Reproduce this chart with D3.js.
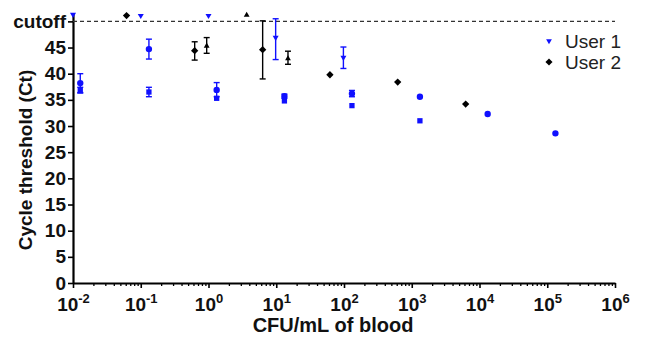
<!DOCTYPE html>
<html><head><meta charset="utf-8">
<script src="https://cdnjs.cloudflare.com/ajax/libs/d3/7.8.5/d3.min.js"></script>
<style>
html,body{margin:0;padding:0;background:#fff;}
text{font-family:"Liberation Sans",Arial,sans-serif;}
</style></head>
<body><svg id="c" width="646" height="337"></svg>
<script>
// ---- data ----
const xMajorTicks = [1e-2,1e-1,1e0,1e1,1e2,1e3,1e4,1e5,1e6];
const xTickExponents = ["-2","-1","0","1","2","3","4","5","6"];
const yTicks = [0,5,10,15,20,25,30,35,40,45,50];
const cutoffValue = 50;
const cutoffLabel = "cutoff";

// User 1 (blue inverted triangles)
const u1TriX  = [0.01, 0.1, 1, 9.8, 98];
const u1TriY  = [51.3, 51.1, 51.1, 46.9, 43.1];
const u1TriLo = [null, null, null, 42.7, 41.0];
const u1TriHi = [null, null, null, 50.5, 45.1];

// blue circles
const bCircX  = [0.0128, 0.132, 1.32, 13.2, 131, 1320, 13200, 132000];
const bCircY  = [38.2, 44.7, 36.9, 35.7, 36.2, 35.6, 32.3, 28.6];
const bCircLo = [36.3, 42.8, 35.6, 35.3, 35.6, null, null, null];
const bCircHi = [40.0, 46.6, 38.3, 36.1, 36.8, null, null, null];

// blue squares
const bSqX  = [0.0128, 0.132, 1.32, 13.2, 131, 1320];
const bSqY  = [36.9, 36.5, 35.3, 34.8, 33.9, 31.0];
const bSqLo = [36.4, 35.6, null, null, null, null];
const bSqHi = [37.4, 37.4, null, null, null, null];

// User 2 (black diamonds)
const u2DiaX  = [0.0617, 0.625, 6.3, 62, 620, 6250];
const u2DiaY  = [51.1, 44.4, 44.6, 39.8, 38.4, 34.2];
const u2DiaLo = [null, 42.6, 39.0, null, null, null];
const u2DiaHi = [null, 46.1, 50.1, null, null, null];

// black up triangles
const kTriX  = [0.94, 3.66, 14.9];
const kTriY  = [45.3, 51.2, 42.9];
const kTriLo = [43.9, null, 41.8];
const kTriHi = [46.9, null, 44.3];

const legendLabels = ["User 1", "User 2"];
const xTitle = "CFU/mL of blood";
const yTitle = "Cycle threshold (Ct)";

// ---- drawing ----
const BLUE = "#1010ff", BLACK = "#000";
const svg = d3.select("#c");
const x = d3.scaleLog().domain([1e-2, 1e6]).range([73, 615]);
const y = d3.scaleLinear().domain([0, 51.6]).range([283, 13]);

// minor ticks
const minor = [];
for (let e = -2; e < 6; e++) for (let m = 2; m <= 9; m++) minor.push(m * Math.pow(10, e));

const gxMinor = svg.append("g").attr("transform","translate(0,283)")
  .call(d3.axisBottom(x).tickValues(minor).tickSize(3).tickFormat(""));
gxMinor.select(".domain").remove();
gxMinor.selectAll("line").attr("stroke-width",1.3);

const gx = svg.append("g").attr("transform","translate(0,283)")
  .call(d3.axisBottom(x).tickValues(xMajorTicks).tickSize(5).tickSizeOuter(0).tickPadding(6).tickFormat(""));
gx.select(".domain").attr("stroke-width",2.2);
gx.selectAll("line").attr("stroke-width",1.6);
gx.selectAll(".tick text").each(function(d,i){
  const t = d3.select(this).attr("font-size",19).attr("font-weight","bold").attr("fill","#111").attr("dy","0.9em");
  t.append("tspan").text("10");
  t.append("tspan").attr("font-size",13).attr("dy","-0.6em").text(xTickExponents[i]);
});

const gy = svg.append("g").attr("transform","translate(73,0)")
  .call(d3.axisLeft(y).tickValues(yTicks).tickSize(5).tickSizeOuter(0).tickPadding(2)
    .tickFormat(d => d === cutoffValue ? cutoffLabel : d));
gy.select(".domain").attr("stroke-width",2.2);
gy.selectAll("line").attr("stroke-width",1.6);
gy.selectAll(".tick text").attr("font-size",19).attr("font-weight","bold").attr("fill","#111");

// cutoff dashed line
svg.append("line").attr("x1",x(1e-2)).attr("x2",x(1e6)).attr("y1",y(cutoffValue)).attr("y2",y(cutoffValue))
  .attr("stroke","#333").attr("stroke-width",1.1).attr("stroke-dasharray","4,3");

function drawSeries(xs, ys, lo, hi, color, shape, size) {
  const g = svg.append("g");
  xs.forEach((xv,i) => {
    if (lo[i] != null) {
      const cx = x(xv);
      g.append("line").attr("x1",cx).attr("x2",cx).attr("y1",y(lo[i])).attr("y2",y(hi[i])).attr("stroke",color).attr("stroke-width",1.4);
      [lo[i],hi[i]].forEach(v => g.append("line").attr("x1",cx-3).attr("x2",cx+3).attr("y1",y(v)).attr("y2",y(v)).attr("stroke",color).attr("stroke-width",1.4));
    }
  });
  g.selectAll("path.m").data(xs.map((xv,i)=>[xv,ys[i]])).join("path")
    .attr("transform", d => `translate(${x(d[0])},${y(d[1])})` + (shape==="down" ? " rotate(180)" : ""))
    .attr("d", d3.symbol().type(shape==="circle"?d3.symbolCircle: shape==="square"?d3.symbolSquare: shape==="diamond"?d3.symbolDiamond2:d3.symbolTriangle2).size(size))
    .attr("fill", color);
}
drawSeries(bSqX, bSqY, bSqLo, bSqHi, BLUE, "square", 28);
drawSeries(bCircX, bCircY, bCircLo, bCircHi, BLUE, "circle", 32);
drawSeries(u1TriX, u1TriY, u1TriLo, u1TriHi, BLUE, "down", 26);
drawSeries(kTriX, kTriY, kTriLo, kTriHi, BLACK, "up", 24);
drawSeries(u2DiaX, u2DiaY, u2DiaLo, u2DiaHi, BLACK, "diamond", 34);

// legend
const leg = svg.append("g");
[[BLUE,"down"],[BLACK,"diamond"]].forEach((s,i) => {
  const yy = 41 + i*21;
  leg.append("path").attr("transform",`translate(549,${yy})` + (s[1]==="down"?" rotate(180)":""))
    .attr("d", d3.symbol().type(s[1]==="down"?d3.symbolTriangle2:d3.symbolDiamond2).size(s[1]==="down"?24:32)).attr("fill",s[0]);
  leg.append("text").attr("x",565).attr("y",yy).attr("dy","0.36em").attr("font-size",19).attr("fill","#222").text(legendLabels[i]);
});

// titles
svg.append("text").attr("x",333).attr("y",332).attr("text-anchor","middle").attr("font-size",20).attr("font-weight","bold").attr("fill","#111").text(xTitle);
svg.append("text").attr("transform","translate(32,160) rotate(-90)").attr("text-anchor","middle").attr("font-size",19).attr("font-weight","bold").attr("fill","#111").text(yTitle);
</script></body></html>
